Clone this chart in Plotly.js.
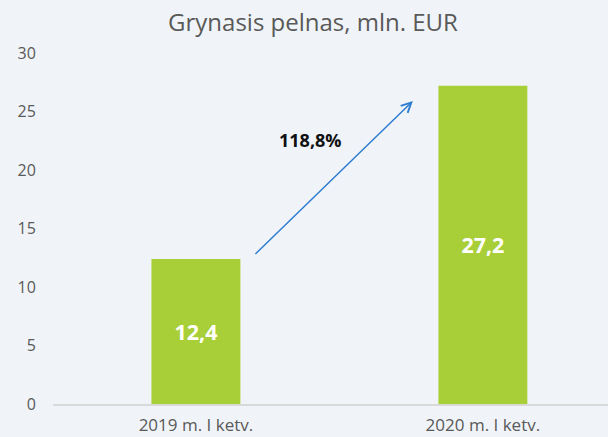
<!DOCTYPE html>
<html>
<head>
<meta charset="utf-8">
<script src="https://cdn.plot.ly/plotly-3.0.1.min.js"></script>
<style>html,body{margin:0;padding:0;background:#f0f4f8;}#chart{width:608px;height:437px;}</style>
</head>
<body>
<div id="chart"></div>
<script>
const categories = ["2019 m. I ketv.", "2020 m. I ketv."];
const values = [12.4, 27.2];
const valueLabels = ["12,4", "27,2"];
const growthLabel = "118,8%";
const yTicks = [0, 5, 10, 15, 20, 25, 30];
// arrow annotation from first bar to second bar (category index, value)
const arrowStart = [0.202, 12.7];
const arrowEnd = [0.756, 25.9];
const growthLabelPos = [0.40, 22.6];

const font = "'Open Sans', 'DejaVu Sans', sans-serif";

const trace = {
  type: 'bar',
  x: [0, 1],
  y: values,
  text: valueLabels,
  textposition: 'inside',
  insidetextanchor: 'middle',
  textangle: 0,
  textfont: {family: font, size: 21.5, color: '#ffffff', weight: 'bold'},
  marker: {color: '#a9cf38'},
  width: 0.31,
  hoverinfo: 'none'
};

const layout = {
  width: 608, height: 437,
  paper_bgcolor: '#f0f4f8',
  plot_bgcolor: '#f0f4f8',
  margin: {l: 53, r: 0, t: 53, b: 33},
  showlegend: false,
  title: {
    text: 'Grynasis pelnas, mln. EUR',
    font: {family: font, size: 24, color: '#595959'},
    x: 313/608, xanchor: 'center', xref: 'container',
    y: 0.949, yanchor: 'middle', yref: 'container'
  },
  xaxis: {
    range: [-0.498, 1.436],
    tickmode: 'array',
    tickvals: [0, 1],
    ticktext: categories,
    showgrid: false,
    zeroline: false,
    showline: true,
    linecolor: '#d9d9d9',
    linewidth: 1.5,
    ticks: 'outside', ticklen: 5, tickcolor: 'rgba(0,0,0,0)',
    tickfont: {family: font, size: 17, color: '#595959'},
    fixedrange: true
  },
  yaxis: {
    range: [0, 30],
    tickmode: 'array',
    tickvals: yTicks,
    ticktext: yTicks.map(String),
    showgrid: false,
    zeroline: false,
    showline: false,
    ticks: 'outside', ticklen: 13, tickcolor: 'rgba(0,0,0,0)',
    tickfont: {family: font, size: 16, color: '#595959'},
    fixedrange: true
  },
  annotations: [
    {
      x: arrowEnd[0], y: arrowEnd[1], xref: 'x', yref: 'y',
      ax: arrowStart[0], ay: arrowStart[1], axref: 'x', ayref: 'y',
      showarrow: true, arrowhead: 5, arrowsize: 1.3, arrowwidth: 1.5,
      arrowcolor: '#2e7dd1', text: ''
    },
    {
      x: growthLabelPos[0], y: growthLabelPos[1], xref: 'x', yref: 'y',
      text: '<b>' + growthLabel + '</b>', showarrow: false,
      font: {family: font, size: 18, color: '#111111'}
    }
  ]
};

Plotly.newPlot('chart', [trace], layout, {displayModeBar: false, staticPlot: true});
</script>
</body>
</html>
